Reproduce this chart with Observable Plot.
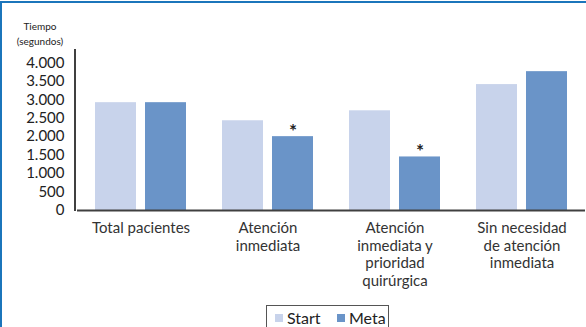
<!DOCTYPE html>
<html>
<head>
<meta charset="utf-8">
<script src="https://cdn.jsdelivr.net/npm/d3@7"></script>
<script src="https://cdn.jsdelivr.net/npm/@observablehq/plot@0.6"></script>
<style>
  html, body { margin: 0; padding: 0; background: #fff; }
  #wrap { position: relative; width: 586px; height: 327px; overflow: hidden; font-family: Lato, sans-serif; }
  #border { position: absolute; left: 0; top: 1px; width: 600px; height: 400px; border-top: 2px solid #1b75bb; border-left: 2px solid #1b75bb; box-sizing: border-box; pointer-events: none; }
  #ytitle { position: absolute; left: 10px; top: 19px; width: 60px; text-align: center; font-size: 10px; line-height: 15px; color: #222; }
  #chart { position: absolute; left: 0; top: 0; }
  #legend { position: absolute; left: 266px; top: 305px; width: 123px; height: 40px; border: 1px solid #555; box-sizing: border-box; font-size: 16px; color: #222; }
  #legend .item { position: absolute; top: 2px; display: flex; align-items: center; }
  #legend .sw { width: 8px; height: 8px; margin-right: 4px; }
</style>
</head>
<body>
<div id="wrap">
  <div id="chart"></div>
  <div id="ytitle">Tiempo<br>(segundos)</div>
  <div id="legend"></div>
  <div id="border"></div>
</div>
<script>
const categories = ["Total pacientes", "Atención\ninmediata", "Atención\ninmediata y\nprioridad\nquirúrgica", "Sin necesidad\nde atención\ninmediata"];
const series = ["Start", "Meta"];
const startValues = [2920, 2430, 2700, 3410];
const metaValues = [2920, 2000, 1450, 3760];
const starred = [false, true, true, false];
const yTicks = [0, 500, 1000, 1500, 2000, 2500, 3000, 3500, 4000];
const colors = ["#c8d3eb", "#6a94c8"];

const data = [];
categories.forEach((c, i) => {
  data.push({cat: c, series: "Start", value: startValues[i]});
  data.push({cat: c, series: "Meta", value: metaValues[i]});
});
const stars = categories.map((c, i) => ({cat: c, series: "Meta", value: metaValues[i], star: starred[i]})).filter(d => d.star);

const fmt = d => d3.format(",")(d).replace(/,/g, ".");

const plot = Plot.plot({
  width: 586,
  height: 300,
  marginLeft: 75,
  marginRight: 0,
  marginTop: 49,
  marginBottom: 90,
  style: {fontFamily: "Lato, sans-serif", fontSize: "15px", color: "#222", background: "transparent"},
  fx: {domain: categories, padding: 0, label: null},
  x: {domain: series, paddingInner: 0.18, paddingOuter: 0.36, axis: null},
  y: {domain: [0, 4360], label: null},
  color: {domain: series, range: colors},
  marks: [
    Plot.barY(data, {fx: "cat", x: "series", y: "value", fill: "series"}),
    Plot.ruleY([0], {stroke: "#404040", strokeWidth: 2}),
    Plot.text(stars, {fx: "cat", x: "series", y: "value", text: () => "*", lineAnchor: "bottom", dy: 1, fontSize: 19, fontWeight: "bold", fill: "#222"}),
    Plot.axisFx({anchor: "bottom", tickSize: 0, tickPadding: 10, lineHeight: 1.18, fontSize: 15, fill: "#333", label: null}),
    Plot.axisY({ticks: yTicks, tickSize: 0, tickPadding: 13, tickFormat: fmt, fontSize: 15, fill: "#222", label: null})
  ]
});
document.getElementById("chart").appendChild(plot);

// left axis line, positioned through Plot's scales
const ys = plot.scale("y");
const fxs = plot.scale("fx");
d3.select(plot).append("line")
  .attr("x1", fxs.range[0]).attr("x2", fxs.range[0])
  .attr("y1", ys.apply(ys.domain[1])).attr("y2", ys.apply(0) + 1)
  .attr("stroke", "#404040").attr("stroke-width", 2);

// legend
const legend = d3.select("#legend");
const lx = [8, 70];
series.forEach((s, i) => {
  const it = legend.append("div").attr("class", "item").style("left", lx[i] + "px");
  it.append("div").attr("class", "sw").style("background", colors[i]);
  it.append("span").text(s);
});
</script>
</body>
</html>
